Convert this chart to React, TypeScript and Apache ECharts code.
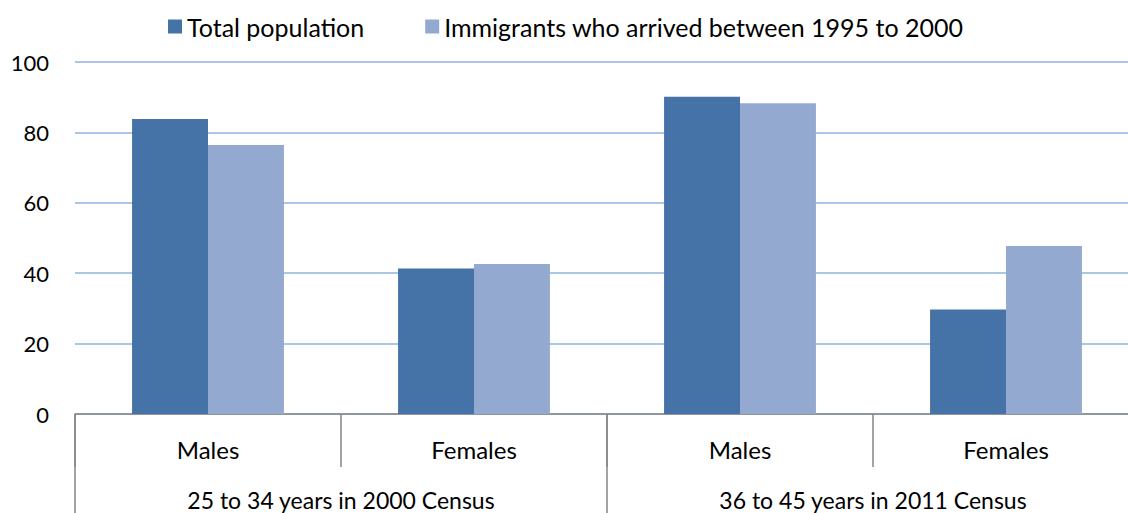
import React, { useEffect, useRef } from "react";
import * as echarts from "echarts";

const categories = ["Males", "Females", "Males", "Females"];
const groups = ["25 to 34 years in 2000 Census", "36 to 45 years in 2011 Census"];
const seriesNames = ["Total population", "Immigrants who arrived between 1995 to 2000"];
const totalPopulation = [83.8, 41.3, 90.1, 29.7];
const immigrants = [76.4, 42.6, 88.3, 47.7];
const yTicks = { min: 0, max: 100, interval: 20 };

const FONT = "Lato";
const AXIS_GRAY = "#868686";

export default function App() {
  const ref = useRef<HTMLDivElement>(null);
  useEffect(() => {
    if (!ref.current) return;
    document.body.style.overflow = "hidden";
    const chart = echarts.init(ref.current, undefined, { renderer: "svg" });
    chart.setOption({
      animation: false,
      textStyle: { fontFamily: FONT },
      legend: {
        left: 168,
        top: 14,
        padding: 0,
        itemWidth: 14,
        itemHeight: 14,
        itemGap: 61,
        icon: "rect",
        textStyle: { fontFamily: FONT, fontSize: 25, color: "#000" },
        data: seriesNames,
      },
      grid: { left: 75, right: 1, top: 62, bottom: 99, containLabel: false },
      yAxis: {
        type: "value",
        min: yTicks.min,
        max: yTicks.max,
        interval: yTicks.interval,
        axisLine: { show: false },
        axisTick: { show: false },
        axisLabel: { fontFamily: FONT, fontSize: 22, color: "#000", margin: 26 },
        splitLine: { lineStyle: { color: "#8EB4E3", width: 1.5 } },
      },
      xAxis: [
        {
          type: "category",
          data: categories,
          position: "bottom",
          axisLine: { lineStyle: { color: AXIS_GRAY, width: 1.5 } },
          axisTick: {
            show: true,
            interval: 0,
            alignWithLabel: false,
            length: 53,
            lineStyle: { color: AXIS_GRAY, width: 1.5 },
          },
          axisLabel: { interval: 0, fontFamily: FONT, fontSize: 24, color: "#000", margin: 23 },
        },
        {
          type: "category",
          data: groups,
          position: "bottom",
          offset: 0,
          axisLine: { show: false },
          axisTick: {
            show: true,
            interval: 0,
            alignWithLabel: false,
            length: 100,
            lineStyle: { color: AXIS_GRAY, width: 1.5 },
          },
          axisLabel: { interval: 0, fontFamily: FONT, fontSize: 23, color: "#000", margin: 74 },
        },
      ],
      series: [
        {
          name: seriesNames[0],
          type: "bar",
          xAxisIndex: 0,
          data: totalPopulation,
          barGap: "0%",
          barCategoryGap: "42.9%",
          itemStyle: { color: "#4572A7" },
        },
        {
          name: seriesNames[1],
          type: "bar",
          xAxisIndex: 0,
          data: immigrants,
          barGap: "0%",
          barCategoryGap: "42.9%",
          itemStyle: { color: "#94A9D0" },
        },
      ],
    });
    return () => chart.dispose();
  }, []);
  return (
    <div
      ref={ref}
      style={{ position: "fixed", left: 0, top: 0, width: 1140, height: 513, background: "#fff" }}
    />
  );
}
